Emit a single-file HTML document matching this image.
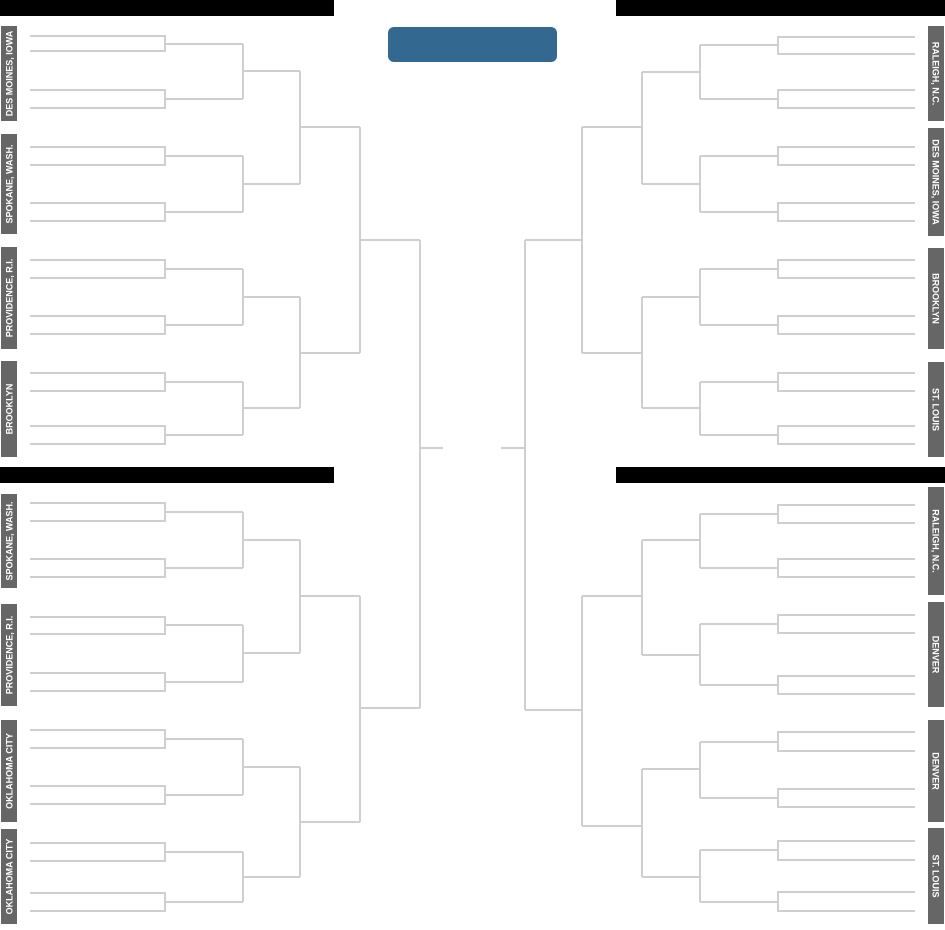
<!DOCTYPE html>
<html><head><meta charset="utf-8"><style>
html,body{margin:0;padding:0;background:#fff;width:945px;height:930px;overflow:hidden}
svg{display:block}
text{font-family:"Liberation Sans",sans-serif;font-weight:bold;font-size:9px;fill:#fff}
</style></head><body>
<svg width="945" height="930" viewBox="0 0 945 930" xmlns="http://www.w3.org/2000/svg">
<rect x="0" y="0" width="334" height="16" fill="#000"/>
<rect x="0" y="467" width="334" height="16" fill="#000"/>
<rect x="616" y="0" width="329" height="16" fill="#000"/>
<rect x="616" y="467" width="329" height="16" fill="#000"/>
<rect x="388" y="27" width="169" height="35" rx="6" fill="#336891"/>
<g fill="none" stroke="#cfcfcf" stroke-width="2">
<path d="M30,36H165V51H30M165,44H243 M30,90H165V108H30M165,99H243 M30,147H165V165H30M165,156H243 M30,203H165V221H30M165,212H243 M30,260H165V278H30M165,269H243 M30,316H165V334H30M165,325H243 M30,373H165V391H30M165,382H243 M30,426H165V444H30M165,435H243"/>
<path d="M243,44V99M243,71H300 M243,156V212M243,184H300 M243,269V325M243,297H300 M243,382V435M243,408H300"/>
<path d="M300,71V184M300,127H360 M300,297V408M300,353H360 M360,127V353M360,240H420"/>
<path d="M30,503H165V521H30M165,512H243 M30,559H165V577H30M165,568H243 M30,617H165V634H30M165,625H243 M30,673H165V691H30M165,682H243 M30,730H165V748H30M165,739H243 M30,786H165V804H30M165,795H243 M30,843H165V861H30M165,852H243 M30,893H165V911H30M165,902H243"/>
<path d="M243,512V568M243,540H300 M243,625V682M243,653H300 M243,739V795M243,767H300 M243,852V902M243,877H300"/>
<path d="M300,540V653M300,596H360 M300,767V877M300,822H360 M360,596V822M360,708H420"/>
<path d="M420,240V708M420,448H443"/>
<path d="M915,37H778V54H915M778,45H700 M915,90H778V108H915M778,99H700 M915,147H778V165H915M778,156H700 M915,203H778V221H915M778,212H700 M915,260H778V278H915M778,269H700 M915,316H778V334H915M778,325H700 M915,373H778V391H915M778,382H700 M915,426H778V444H915M778,435H700"/>
<path d="M700,45V99M700,72H642 M700,156V212M700,184H642 M700,269V325M700,297H642 M700,382V435M700,408H642"/>
<path d="M642,72V184M642,127H582 M642,297V408M642,353H582 M582,127V353M582,240H525"/>
<path d="M915,505H778V523H915M778,514H700 M915,559H778V577H915M778,568H700 M915,615H778V633H915M778,624H700 M915,676H778V694H915M778,685H700 M915,732H778V751H915M778,742H700 M915,789H778V807H915M778,798H700 M915,841H778V860H915M778,850H700 M915,892H778V911H915M778,902H700"/>
<path d="M700,514V568M700,540H642 M700,624V685M700,655H642 M700,742V798M700,769H642 M700,850V902M700,877H642"/>
<path d="M642,540V655M642,596H582 M642,769V877M642,826H582 M582,596V826M582,710H525"/>
<path d="M525,240V710M525,448H501"/>
</g>
<g fill="#666">
<rect x="1" y="26" width="16" height="95"/><rect x="1" y="134" width="16" height="100"/>
<rect x="1" y="247" width="16" height="102"/><rect x="1" y="361" width="16" height="96"/>
<rect x="1" y="494" width="16" height="94"/><rect x="1" y="604" width="16" height="102"/>
<rect x="1" y="720" width="16" height="102"/><rect x="1" y="829" width="16" height="95"/>
<rect x="928" y="26" width="16" height="95"/><rect x="928" y="128" width="16" height="108"/>
<rect x="928" y="248" width="16" height="101"/><rect x="928" y="362" width="16" height="95"/>
<rect x="928" y="487" width="16" height="108"/><rect x="928" y="602" width="16" height="105"/>
<rect x="928" y="720" width="16" height="102"/><rect x="928" y="828" width="16" height="96"/>
</g>
<g text-anchor="middle">
<text transform="translate(12.5,73.5) rotate(-90)">DES MOINES, IOWA</text>
<text transform="translate(12.5,184) rotate(-90)">SPOKANE, WASH.</text>
<text transform="translate(12.5,298) rotate(-90)">PROVIDENCE, R.I.</text>
<text transform="translate(12.5,409) rotate(-90)">BROOKLYN</text>
<text transform="translate(12.5,541) rotate(-90)">SPOKANE, WASH.</text>
<text transform="translate(12.5,655) rotate(-90)">PROVIDENCE, R.I.</text>
<text transform="translate(12.5,771) rotate(-90)">OKLAHOMA CITY</text>
<text transform="translate(12.5,876.5) rotate(-90)">OKLAHOMA CITY</text>
<text transform="translate(932.5,73.5) rotate(90)">RALEIGH, N.C.</text>
<text transform="translate(932.5,182) rotate(90)">DES MOINES, IOWA</text>
<text transform="translate(932.5,298.5) rotate(90)">BROOKLYN</text>
<text transform="translate(932.5,409.5) rotate(90)">ST. LOUIS</text>
<text transform="translate(932.5,541) rotate(90)">RALEIGH, N.C.</text>
<text transform="translate(932.5,654.5) rotate(90)">DENVER</text>
<text transform="translate(932.5,771) rotate(90)">DENVER</text>
<text transform="translate(932.5,876) rotate(90)">ST. LOUIS</text>
</g>
</svg>
</body></html>
